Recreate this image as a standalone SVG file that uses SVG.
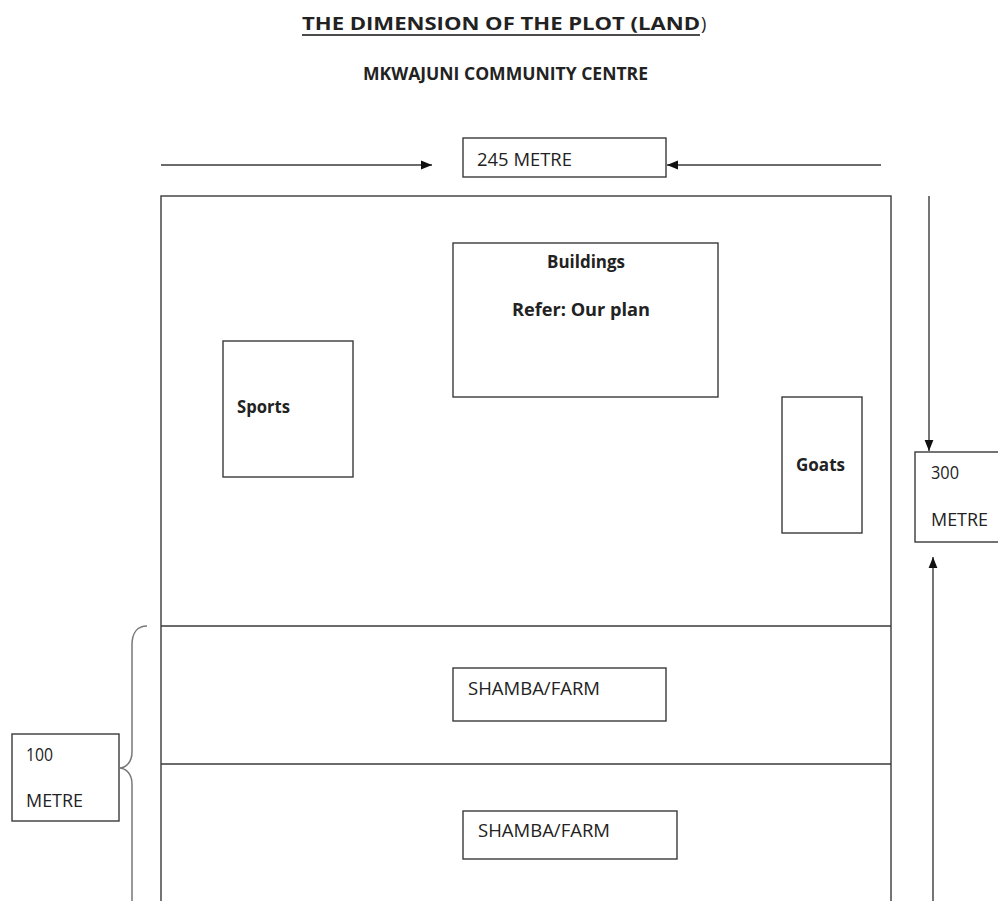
<svg xmlns="http://www.w3.org/2000/svg" width="998" height="901" viewBox="0 0 998 901">
<style>
.box{fill:#fff;stroke:#3a3a3a;stroke-width:1.4}
.ln{fill:none;stroke:#3a3a3a;stroke-width:1.4}
.t{font-family:"Open Sans","Liberation Sans",sans-serif;font-size:18px;fill:#222}
.b{font-weight:bold}
</style>
<defs>
<marker id="ah" viewBox="0 0 10 10" refX="10" refY="5" markerWidth="11" markerHeight="11" markerUnits="userSpaceOnUse" orient="auto">
<path d="M0,1 L10,5 L0,9 Z" fill="#111"/>
</marker>
</defs>
<rect width="998" height="901" fill="#fff"/>
<g id="title">
<text class="t b" x="302" y="30" font-size="20.5" textLength="398" lengthAdjust="spacingAndGlyphs">THE DIMENSION OF THE PLOT (LAND</text>
<text class="t" x="701" y="30" font-size="15">)</text>
<line x1="302" y1="35" x2="700" y2="35" stroke="#111" stroke-width="1.6"/>
<text class="t b" x="363" y="80" font-size="15.5" textLength="285" lengthAdjust="spacingAndGlyphs">MKWAJUNI COMMUNITY CENTRE</text>
</g>
<g id="plot">
<rect class="ln" x="161" y="196" width="730" height="720"/>
<line class="ln" x1="161" y1="626" x2="891" y2="626"/>
<line class="ln" x1="161" y1="764" x2="891" y2="764"/>
</g>
<g id="dim-245">
<rect class="box" x="463" y="138" width="203" height="39"/>
<text class="t" x="477" y="166" textLength="95" lengthAdjust="spacingAndGlyphs">245 METRE</text>
</g>
<g id="buildings">
<rect class="box" x="453" y="243" width="265" height="154"/>
<text class="t b" x="547" y="268" textLength="78" lengthAdjust="spacingAndGlyphs">Buildings</text>
<text class="t b" x="512" y="316" textLength="138" lengthAdjust="spacingAndGlyphs">Refer: Our plan</text>
</g>
<g id="sports">
<rect class="box" x="223" y="341" width="130" height="136"/>
<text class="t b" x="237" y="413" textLength="53" lengthAdjust="spacingAndGlyphs">Sports</text>
</g>
<g id="goats">
<rect class="box" x="782" y="397" width="80" height="136"/>
<text class="t b" x="796" y="471" textLength="49" lengthAdjust="spacingAndGlyphs">Goats</text>
</g>
<g id="dim-300">
<rect class="box" x="915" y="452" width="100" height="90"/>
<text class="t" x="931" y="479" textLength="28" lengthAdjust="spacingAndGlyphs">300</text>
<text class="t" x="931" y="526" textLength="57" lengthAdjust="spacingAndGlyphs">METRE</text>
</g>
<g id="farm1">
<rect class="box" x="453" y="668" width="213" height="53"/>
<text class="t" x="468" y="695" textLength="132" lengthAdjust="spacingAndGlyphs">SHAMBA/FARM</text>
</g>
<g id="farm2">
<rect class="box" x="463" y="811" width="214" height="48"/>
<text class="t" x="478" y="837" textLength="132" lengthAdjust="spacingAndGlyphs">SHAMBA/FARM</text>
</g>
<g id="dim-100">
<rect class="box" x="12" y="734" width="107" height="87"/>
<text class="t" x="26" y="761" textLength="27" lengthAdjust="spacingAndGlyphs">100</text>
<text class="t" x="26" y="807" textLength="57" lengthAdjust="spacingAndGlyphs">METRE</text>
</g>
<g id="connectors">
<line class="ln" x1="161" y1="165" x2="432" y2="165" stroke="#111" marker-end="url(#ah)"/>
<line class="ln" x1="881" y1="165" x2="667" y2="165" stroke="#111" marker-end="url(#ah)"/>
<line class="ln" x1="929" y1="196" x2="929" y2="451" stroke="#111" marker-end="url(#ah)"/>
<line class="ln" x1="933" y1="905" x2="933" y2="557" stroke="#111" marker-end="url(#ah)"/>
<path d="M147,626 C138,626 132,632 132,645 L132,752 C132,762 126,768 119,768 C126,768 132,774 132,784 L132,905" fill="none" stroke="#777" stroke-width="1.5"/>
</g>
</svg>
